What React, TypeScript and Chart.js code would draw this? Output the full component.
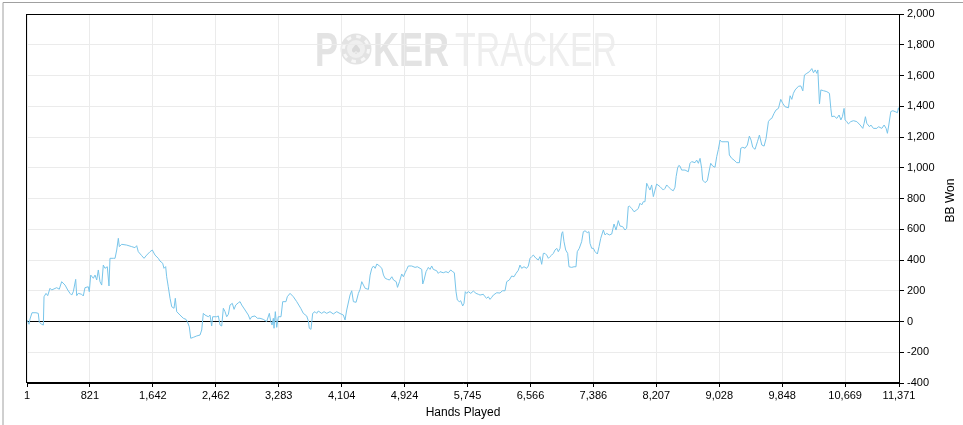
import React, { useEffect, useRef } from 'react';
import { Chart, registerables } from 'chart.js';

Chart.register(...registerables);

const handsPlayed = [
  1, 27, 40, 66, 118, 148, 161, 193, 214, 223, 249, 271, 301, 323, 388, 422, 453, 497, 532, 562,
  584, 605, 636, 649, 670, 714, 735, 757, 800, 813, 832, 866, 888, 910, 931, 953, 975, 996, 1018, 1048,
  1070, 1083, 1126, 1149, 1171, 1192, 1205, 1236, 1301, 1366, 1409, 1431, 1452, 1497, 1527, 1562, 1605, 1635, 1670, 1713,
  1735, 1770, 1787, 1809, 1822, 1843, 1866, 1888, 1918, 1935, 1953, 1996, 2039, 2074, 2091, 2117, 2136, 2170, 2214, 2257,
  2279, 2300, 2322, 2365, 2387, 2409, 2422, 2475, 2496, 2518, 2540, 2561, 2583, 2605, 2627, 2648, 2678, 2701, 2723, 2757,
  2779, 2801, 2844, 2887, 2909, 2931, 2974, 3004, 3039, 3082, 3126, 3161, 3179, 3196, 3213, 3222, 3239, 3257, 3278, 3313,
  3335, 3378, 3395, 3431, 3474, 3518, 3570, 3604, 3648, 3669, 3682, 3704, 3726, 3756, 3778, 3799, 3843, 3874, 3909, 3952,
  3995, 4039, 4082, 4126, 4148, 4170, 4213, 4235, 4257, 4292, 4322, 4344, 4366, 4388, 4410, 4453, 4475, 4497, 4519, 4541,
  4563, 4597, 4628, 4649, 4671, 4702, 4728, 4758, 4780, 4815, 4832, 4858, 4887, 4909, 4931, 4952, 4973, 5017, 5061, 5091,
  5126, 5148, 5161, 5178, 5204, 5221, 5234, 5256, 5278, 5299, 5343, 5364, 5386, 5429, 5464, 5495, 5526, 5552, 5573, 5595,
  5612, 5638, 5656, 5682, 5699, 5716, 5734, 5756, 5787, 5821, 5856, 5886, 5908, 5951, 5973, 5995, 6016, 6038, 6060, 6082,
  6126, 6169, 6199, 6234, 6256, 6290, 6321, 6351, 6377, 6407, 6429, 6451, 6481, 6516, 6538, 6560, 6582, 6603, 6638, 6668,
  6690, 6712, 6734, 6755, 6777, 6799, 6821, 6842, 6864, 6886, 6908, 6929, 6951, 6973, 6986, 7003, 7025, 7051, 7068, 7103,
  7133, 7159, 7176, 7202, 7233, 7255, 7277, 7307, 7329, 7342, 7364, 7386, 7408, 7438, 7460, 7482, 7516, 7538, 7560, 7594,
  7625, 7655, 7681, 7711, 7733, 7768, 7798, 7820, 7841, 7854, 7885, 7916, 7951, 7972, 7994, 8016, 8037, 8059, 8081, 8102,
  8124, 8146, 8168, 8190, 8211, 8255, 8298, 8320, 8342, 8363, 8385, 8407, 8429, 8450, 8465, 8485, 8500, 8515, 8537, 8581,
  8624, 8646, 8668, 8711, 8733, 8755, 8777, 8798, 8811, 8842, 8872, 8898, 8916, 8942, 8972, 8994, 9016, 9038, 9059, 9103,
  9146, 9159, 9190, 9220, 9255, 9290, 9308, 9334, 9364, 9394, 9420, 9442, 9464, 9494, 9525, 9551, 9582, 9612, 9638, 9668,
  9690, 9712, 9742, 9768, 9799, 9829, 9855, 9885, 9929, 9951, 9973, 9994, 10016, 10060, 10091, 10117, 10138, 10169, 10203, 10234,
  10256, 10278, 10300, 10313, 10334, 10352, 10387, 10430, 10464, 10482, 10495, 10525, 10560, 10590, 10613, 10633, 10655, 10668, 10690, 10711,
  10742, 10777, 10821, 10864, 10899, 10916, 10933, 10951, 10986, 11004, 11038, 11082, 11103, 11147, 11177, 11203, 11220, 11238, 11264, 11290,
  11321, 11351, 11364, 11371,
];

const bbWon = [
  10, -18, 16, 57, 57, 53, -5, -18, -23, 161, 183, 168, 216, 205, 220, 210, 259, 237, 205, 183,
  172, 194, 274, 168, 183, 177, 166, 220, 226, 194, 302, 281, 302, 270, 335, 259, 237, 367, 346, 356,
  231, 411, 411, 411, 465, 541, 487, 502, 497, 487, 480, 493, 454, 428, 411, 432, 454, 465, 432, 411,
  393, 379, 346, 357, 291, 226, 151, 96, 86, 151, 64, 42, 21, 14, 0, -34, -109, -103, -94, -88,
  -55, 53, 42, 31, 42, -29, 31, 31, 36, -23, -29, 86, 64, 31, 47, 107, 118, 79, 107, 122,
  129, 107, 75, 42, 14, 31, 36, 21, 21, 14, 0, 53, 0, -23, 21, -44, 64, -38, 31, 31,
  129, 129, 161, 183, 161, 129, 86, 53, 36, 5, -44, -51, 53, 64, 53, 68, 53, 64, 53, 64,
  49, 64, 52, 42, 10, 75, 172, 200, 129, 125, 183, 209, 259, 237, 216, 209, 302, 346, 361, 346,
  374, 361, 346, 302, 281, 274, 270, 291, 270, 259, 222, 259, 309, 291, 317, 339, 361, 361, 352, 356,
  346, 339, 244, 270, 324, 339, 352, 339, 361, 339, 330, 313, 324, 317, 324, 317, 335, 324, 317, 194,
  140, 129, 135, 101, 118, 194, 183, 194, 183, 198, 183, 177, 172, 177, 161, 151, 161, 144, 157, 172,
  187, 185, 200, 200, 259, 270, 296, 291, 313, 333, 367, 346, 356, 346, 361, 411, 422, 432, 411, 400,
  422, 372, 443, 443, 432, 411, 422, 432, 443, 465, 476, 454, 476, 573, 584, 519, 465, 443, 356, 352,
  356, 356, 454, 476, 519, 584, 590, 578, 584, 508, 476, 476, 454, 439, 487, 541, 595, 563, 573, 563,
  569, 634, 595, 656, 621, 617, 595, 606, 747, 751, 736, 714, 725, 736, 769, 758, 779, 779, 899, 877,
  855, 888, 812, 855, 894, 877, 855, 866, 888, 877, 866, 855, 851, 873, 942, 1000, 1015, 1011, 985, 985,
  974, 1029, 1040, 1033, 1050, 1029, 1061, 996, 920, 903, 916, 985, 1029, 1011, 1003, 1072, 1120, 1180, 1169, 1169,
  1169, 1083, 1061, 1050, 1033, 1033, 1127, 1133, 1127, 1148, 1206, 1180, 1133, 1120, 1169, 1213, 1148, 1141, 1191, 1300,
  1315, 1321, 1354, 1376, 1386, 1445, 1419, 1397, 1390, 1468, 1445, 1484, 1506, 1530, 1532, 1500, 1603, 1614, 1625, 1645,
  1618, 1636, 1614, 1636, 1415, 1506, 1501, 1495, 1484, 1386, 1332, 1336, 1321, 1343, 1311, 1332, 1386, 1311, 1300, 1285,
  1300, 1306, 1300, 1278, 1256, 1289, 1332, 1289, 1267, 1278, 1256, 1256, 1267, 1256, 1278, 1256, 1224, 1278, 1365, 1371,
  1365, 1358, 1390, 1375,
];

const xTickValues = [1, 821, 1642, 2462, 3283, 4104, 4924, 5745, 6566, 7386, 8207, 9028, 9848, 10669, 11371];
const yMin = -400;
const yMax = 2000;
const yStep = 200;
const xTitle = 'Hands Played';
const yTitle = 'BB Won';
const watermarkBold = 'KER';
const watermarkLight = 'TRACKER';

const FONT = '"Liberation Sans", Arial, sans-serif';
const LINE_COLOR = '#78C5EA';
const GRID_COLOR = '#ebebeb';

function fmt(v: number) {
  return Number(v).toLocaleString('en-US');
}

function scaledText(ctx: CanvasRenderingContext2D, t: string, x: number, y: number, w: number) {
  const m = ctx.measureText(t).width;
  ctx.save();
  ctx.translate(x, y);
  ctx.scale(w / m, 1);
  ctx.fillText(t, 0, 0);
  ctx.restore();
}

export default function App() {
  const ref = useRef<HTMLCanvasElement>(null);

  useEffect(() => {
    const canvas = ref.current;
    if (!canvas) return;

    const decor = {
      id: 'decor',
      beforeDraw(chart: any) {
        const ctx: CanvasRenderingContext2D = chart.ctx;
        const a = chart.chartArea;
        ctx.save();
        ctx.fillStyle = '#ffffff';
        ctx.fillRect(0, 0, chart.width, chart.height);
        // watermark
        const x0 = a.left + 288;
        const base = a.top + 52;
        ctx.textBaseline = 'alphabetic';
        ctx.font = 'bold 48px ' + FONT;
        ctx.fillStyle = '#e3e3e3';
        scaledText(ctx, 'P', x0, base, 23);
        const cx = x0 + 41;
        const cy = base - 17;
        ctx.beginPath();
        ctx.arc(cx, cy, 15.5, 0, Math.PI * 2);
        ctx.fillStyle = '#e3e3e3';
        ctx.fill();
        ctx.beginPath();
        ctx.arc(cx, cy, 12.5, 0, Math.PI * 2);
        ctx.strokeStyle = '#f7f7f7';
        ctx.lineWidth = 3;
        ctx.setLineDash([4.5, 5.3]);
        ctx.stroke();
        ctx.setLineDash([]);
        ctx.beginPath();
        ctx.arc(cx, cy, 9, 0, Math.PI * 2);
        ctx.fillStyle = '#efefef';
        ctx.fill();
        ctx.fillStyle = '#dadada';
        ctx.font = '14px "DejaVu Sans", sans-serif';
        ctx.textAlign = 'center';
        ctx.textBaseline = 'middle';
        ctx.fillText('\u2660', cx, cy + 1);
        ctx.textAlign = 'left';
        ctx.textBaseline = 'alphabetic';
        ctx.font = 'bold 48px ' + FONT;
        ctx.fillStyle = '#e3e3e3';
        scaledText(ctx, watermarkBold, x0 + 58, base, 76);
        ctx.font = '48px ' + FONT;
        ctx.fillStyle = '#eeeeee';
        scaledText(ctx, watermarkLight, x0 + 140, base, 162);
        ctx.restore();
      },
      beforeDatasetsDraw(chart: any) {
        const ctx: CanvasRenderingContext2D = chart.ctx;
        const a = chart.chartArea;
        ctx.save();
        ctx.strokeStyle = '#000';
        ctx.lineWidth = 1;
        ctx.strokeRect(Math.round(a.left) - 0.5, Math.round(a.top) + 0.5, Math.round(a.right - a.left) + 1, Math.round(a.bottom - a.top) - 1);
        ctx.restore();
      },
      afterDraw(chart: any) {
        const ctx: CanvasRenderingContext2D = chart.ctx;
        const a = chart.chartArea;
        ctx.save();
        ctx.fillStyle = '#000';
        ctx.font = '12px ' + FONT;
        ctx.textAlign = 'center';
        ctx.textBaseline = 'middle';
        ctx.fillText(xTitle, (a.left + a.right) / 2, a.bottom + 30);
        ctx.save();
        ctx.translate(a.right + 52, (a.top + a.bottom) / 2 + 2);
        ctx.rotate(-Math.PI / 2);
        ctx.fillText(yTitle, 0, 0);
        ctx.restore();
        // outer frame
        ctx.strokeStyle = '#a0a0a0';
        ctx.lineWidth = 1;
        ctx.beginPath();
        ctx.moveTo(3, chart.height);
        ctx.lineTo(3, 2.5);
        ctx.lineTo(chart.width, 2.5);
        ctx.stroke();
        ctx.restore();
      },
    };

    const chart = new Chart(canvas, {
      type: 'line',
      data: {
        datasets: [
          {
            label: yTitle,
            data: handsPlayed.map((h, i) => ({ x: h, y: bbWon[i] })),
            borderColor: LINE_COLOR,
            borderWidth: 1,
            pointRadius: 0,
            tension: 0,
            fill: false,
          },
        ],
      },
      options: {
        animation: false,
        responsive: false,
        devicePixelRatio: 1,
        layout: { padding: { left: 27, top: 14, right: 0, bottom: 0 } },
        plugins: {
          legend: { display: false },
          tooltip: { enabled: false },
        },
        scales: {
          x: {
            type: 'linear',
            position: 'bottom',
            min: 1,
            max: 11371,
            afterBuildTicks: (s: any) => {
              s.ticks = xTickValues.map((v) => ({ value: v }));
            },
            afterFit: (s: any) => {
              s.height = 42;
            },
            ticks: {
              autoSkip: false,
              maxRotation: 0,
              minRotation: 0,
              padding: 2,
              color: '#000',
              font: { family: FONT, size: 11 },
              callback: (v: any) => fmt(v),
            },
            grid: { color: GRID_COLOR, tickColor: '#000', tickLength: 4, lineWidth: 1 },
            border: { display: true, color: '#000', width: 1 },
          },
          y: {
            type: 'linear',
            position: 'right',
            min: yMin,
            max: yMax,
            afterFit: (s: any) => {
              s.width = 64;
            },
            ticks: {
              stepSize: yStep,
              padding: 3,
              color: '#000',
              font: { family: FONT, size: 11 },
              callback: (v: any) => fmt(v),
            },
            grid: {
              color: (c: any) => (c.tick && c.tick.value === 0 ? '#000' : GRID_COLOR),
              tickColor: '#000',
              tickLength: 5,
              lineWidth: 1,
            },
            border: { display: true, color: '#000', width: 1 },
          },
        },
      } as any,
      plugins: [decor],
    });

    return () => chart.destroy();
  }, []);

  return (
    <div style={{ position: 'absolute', left: 0, top: 0, width: 963, height: 425, background: '#fff' }}>
      <canvas ref={ref} width={963} height={425} style={{ display: 'block', width: 963, height: 425 }} />
    </div>
  );
}
